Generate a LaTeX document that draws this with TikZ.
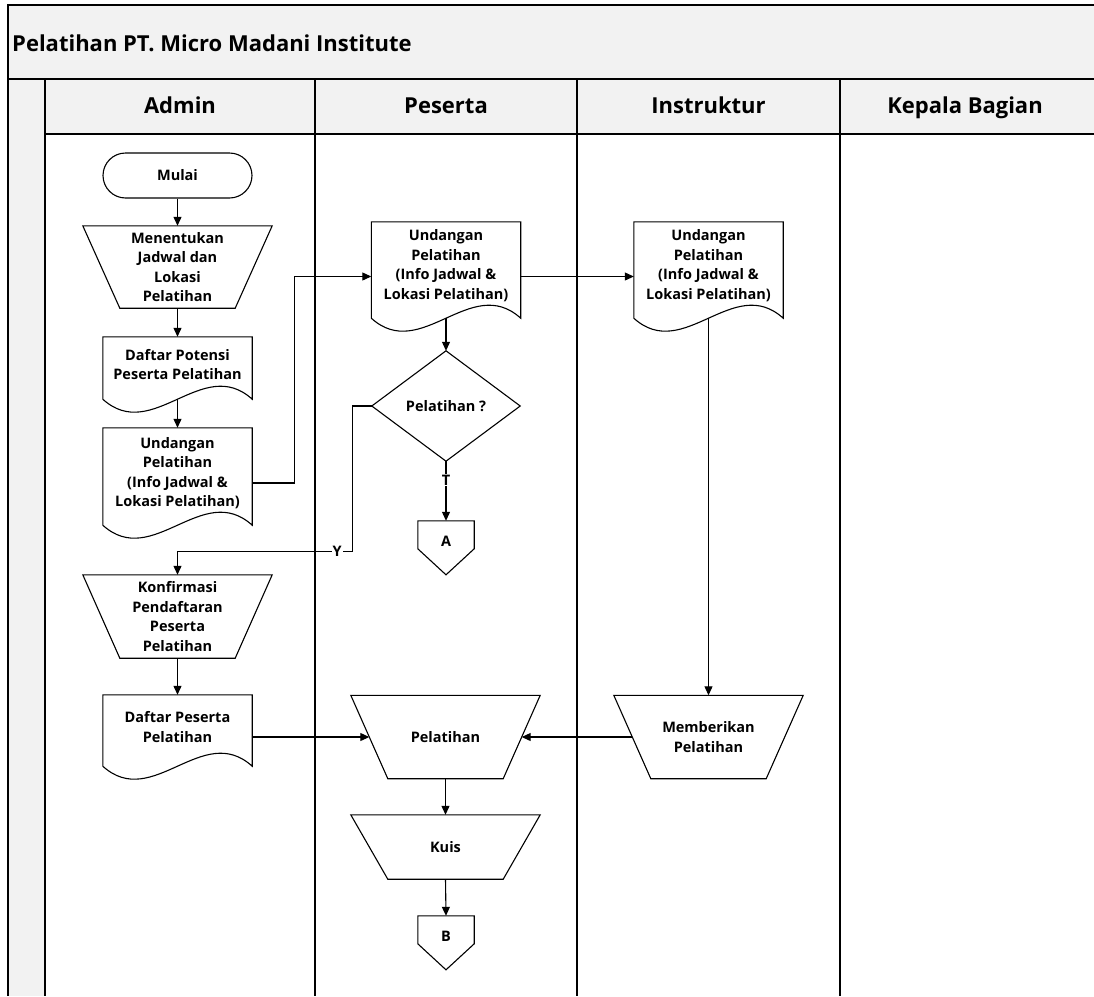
\documentclass[tikz,border=0pt]{standalone}
\usepackage{fontspec}
\setmainfont{Open Sans}
\usetikzlibrary{arrows.meta,calc}
\definecolor{bandgray}{HTML}{F2F2F2}

% document symbol: straight top and sides, wavy bottom edge
\newcommand{\docoutline}[1]{%
  \draw[shapeline] (#1.north west) -- (#1.north east) -- ($(#1.south east)+(0,-13)$)
    .. controls ($(#1.south east)+(-49.7,-58)$) and ($(#1.south west)+(49.7,32)$)
    .. ($(#1.south west)+(0,-13)$) -- cycle;
  \coordinate (#1-b) at ($(#1.south)+(0,-13)$);}

% manual operation: trapezium, wide side on top
\newcommand{\manualop}[1]{%
  \draw[shapeline] (#1.north west) -- (#1.north east) -- ($(#1.south east)+(-37,0)$)
    -- ($(#1.south west)+(37,0)$) -- cycle;
  \coordinate (#1-l) at ($(#1.west)+(18.5,0)$);
  \coordinate (#1-r) at ($(#1.east)+(-18.5,0)$);}

% off-page connector: box with a pointed bottom
\newcommand{\offpage}[1]{%
  \draw[shapeline] (#1.north west) -- (#1.north east) -- ($(#1.north east)+(0,28)$)
    -- ($(#1.north)+(0,54)$) -- ($(#1.north west)+(0,28)$) -- cycle;}

\begin{document}
\begin{tikzpicture}[x=1pt,y=-1pt,
  laneline/.style={line width=1.4pt,black},
  shapeline/.style={line width=1.1pt,black},
  flow/.style={line width=1.1pt,-{Triangle[length=9pt,width=8pt]}},
  lbl/.style={font=\bfseries\fontsize{14.5}{19.5}\selectfont,align=center,inner sep=0pt},
  headtext/.style={font=\bfseries\fontsize{22}{26}\selectfont,inner sep=0pt},
  docbox/.style={draw=none,minimum width=149pt,inner sep=0pt},
  opbox/.style={lbl,draw=none,minimum width=189pt},
  decbox/.style={lbl,draw=none,minimum width=148pt,minimum height=110pt},
  pagebox/.style={lbl,draw=none,minimum width=56pt,minimum height=40pt},
  branch/.style={font=\bfseries\fontsize{14.5}{16}\selectfont,fill=white,inner sep=1pt}]

\useasboundingbox (0,0) rectangle (1094,996);

% pool frame, title band and lane headers
\fill[bandgray] (8,5) rectangle (1094,79);
\fill[bandgray] (8,79) rectangle (45,996);
\fill[bandgray] (45,79) rectangle (1094,134);
\draw[laneline] (1094,5) -- (8,5) -- (8,996);
\draw[laneline] (8,79) -- (1094,79);
\draw[laneline] (45,134) -- (1094,134);
\foreach \x in {45,315,577,840} \draw[laneline] (\x,79) -- (\x,996);

\node[headtext,anchor=base west] (title) at (12,51) {Pelatihan PT. Micro Madani Institute};
\node[headtext,anchor=base] (hAdmin) at (180,113) {Admin};
\node[headtext,anchor=base] (hPeserta) at (446,113) {Peserta};
\node[headtext,anchor=base] (hInstruktur) at (708.5,113) {Instruktur};
\node[headtext,anchor=base] (hKepala) at (965,113) {Kepala Bagian};

% Admin lane
\node[lbl,draw,shapeline,rounded corners=22.5pt,minimum width=149pt,minimum height=45pt]
  (mulai) at (177.5,175.5) {Mulai};

\node[opbox,minimum height=82pt] (jadwal) at (177.5,267) {Menentukan\\Jadwal dan\\Lokasi\\Pelatihan};
\manualop{jadwal}

\node[docbox,minimum height=75pt] (dpot) at (177.5,374.5) {};
\docoutline{dpot}
\node[lbl] (dpot-t) at ($(dpot)+(0,-10)$) {Daftar Potensi\\Peserta Pelatihan};

\node[docbox,minimum height=110pt] (undA) at (177.5,483) {};
\docoutline{undA}
\node[lbl] (undA-t) at ($(undA)+(0,-10)$) {Undangan\\Pelatihan\\(Info Jadwal \&\\Lokasi Pelatihan)};

\node[opbox,minimum height=83pt] (konf) at (177.5,616.5) {Konfirmasi\\Pendaftaran\\Peserta\\Pelatihan};
\manualop{konf}

\node[docbox,minimum height=84pt] (dpes) at (177.5,737) {};
\docoutline{dpes}
\node[lbl] (dpes-t) at ($(dpes)+(0,-10)$) {Daftar Peserta\\Pelatihan};

% Peserta lane
\node[docbox,minimum height=109pt] (undP) at (446,276.5) {};
\docoutline{undP}
\node[lbl] (undP-t) at ($(undP)+(0,-11)$) {Undangan\\Pelatihan\\(Info Jadwal \&\\Lokasi Pelatihan)};

\node[decbox] (dec) at (446,406) {Pelatihan ?};
\draw[shapeline] (dec.north) -- (dec.east) -- (dec.south) -- (dec.west) -- cycle;

\node[pagebox] (offA) at (446,541) {A};
\offpage{offA}

\node[opbox,minimum height=83pt] (pel) at (445.5,737) {Pelatihan};
\manualop{pel}

\node[opbox,minimum height=64pt] (kuis) at (445.5,847) {Kuis};
\manualop{kuis}

\node[pagebox] (offB) at (446,936) {B};
\offpage{offB}

% Instruktur lane
\node[docbox,minimum height=109pt] (undI) at (708.5,276.5) {};
\docoutline{undI}
\node[lbl] (undI-t) at ($(undI)+(0,-11)$) {Undangan\\Pelatihan\\(Info Jadwal \&\\Lokasi Pelatihan)};

\node[opbox,minimum height=83pt] (memb) at (708.5,737) {Memberikan\\Pelatihan};
\manualop{memb}

% flow connectors
\draw[flow] (mulai.south) -- (jadwal.north);
\draw[flow] (jadwal.south) -- (dpot.north);
\draw[flow] (dpot-b) -- (undA.north);
\draw[flow] (undA.east) -- ++(42,0) |- (undP.west);
\draw[flow] (undP.east) -- (undI.west);
\draw[flow] (undP-b) -- (dec.north);
\draw[flow] (dec.south) -- node[branch,pos=0.32] (lblT) {T} (offA.north);
\draw[flow] (dec.west) -- ++(-19,0) |- node[branch,pos=0.545] (lblY) {Y} ([yshift=23pt]konf.north) -- (konf.north);
\draw[flow] (konf.south) -- (dpes.north);
\draw[flow] (dpes.east) -- (pel-l);
\draw[flow] (undI-b) -- (memb.north);
\draw[flow] (memb-l) -- (pel-r);
\draw[flow] (pel.south) -- (kuis.north);
\draw[flow] (kuis.south) -- (offB.north);

\end{tikzpicture}
\end{document}
